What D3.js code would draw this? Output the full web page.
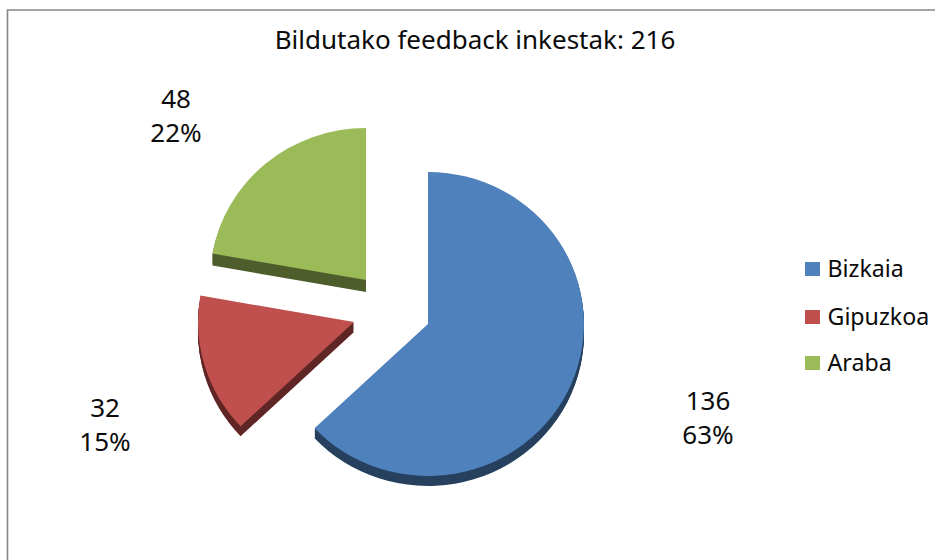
<!DOCTYPE html>
<html><head><meta charset="utf-8">
<script src="https://cdn.jsdelivr.net/npm/d3@7"></script>
<style>html,body{margin:0;padding:0;background:#fff}svg{display:block}text{font-family:"Noto Sans",sans-serif;fill:#0b0b0b}</style>
</head><body><svg id="c" width="935" height="560"></svg>
<script>
const categories = ["Bizkaia","Gipuzkoa","Araba"];
const values = [136,32,48];
const percents = ["63%","15%","22%"];
const colors = ["#4f81bd","#c0504d","#9bbb59"];
const sideColors = ["#27415f","#602726","#4e5d2c"];
const title = "Bildutako feedback inkestak: 216";

const apexes = [[428,324],[354,322],[366,280]];
const depths = [10,10,12];
const labelPos = [[708,418],[105,425],[176,116]];
const legendY = [269,317,363];
const svg = d3.select("#c");

svg.append("path").attr("d","M7.5 560V10H935").attr("fill","none").attr("stroke","#868686").attr("stroke-width",1.6);
svg.append("text").attr("x",475).attr("y",49).attr("text-anchor","middle").attr("font-size",26).text(title);

const pie = d3.pie().sort(null)(values);
const arc = d3.arc().innerRadius(0).outerRadius(152);
const g = svg.selectAll("g.s").data(pie).join("g").attr("class","s");
g.each(function(d,i){
  const s = d3.select(this);
  for(let k=depths[i];k>=1;k--){
    s.append("path").attr("d",arc(d)).attr("fill",sideColors[i])
     .attr("transform",`translate(${apexes[i][0]},${apexes[i][1]+k}) scale(1.026,1)`);
  }
  s.append("path").attr("d",arc(d)).attr("fill",colors[i])
   .attr("transform",`translate(${apexes[i][0]},${apexes[i][1]}) scale(1.026,1)`);
});

labelPos.forEach((p,i)=>{
  const t = svg.append("text").attr("text-anchor","middle").attr("font-size",26);
  t.append("tspan").attr("x",p[0]).attr("y",p[1]-8).text(values[i]);
  t.append("tspan").attr("x",p[0]).attr("y",p[1]+26).text(percents[i]);
});

categories.forEach((c,i)=>{
  svg.append("rect").attr("x",805).attr("y",legendY[i]-7).attr("width",15).attr("height",14).attr("fill",colors[i]);
  svg.append("text").attr("x",827.5).attr("y",legendY[i]+8).attr("font-size",23.2).text(c);
});
</script></body></html>
